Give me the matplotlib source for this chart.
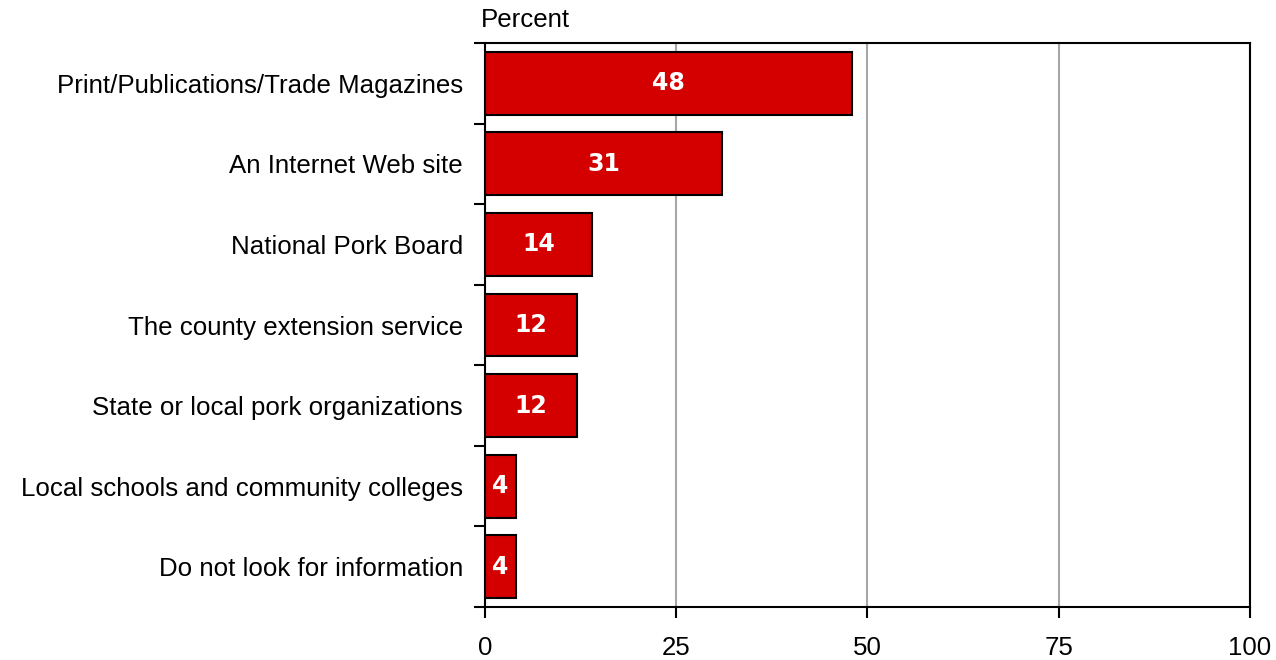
import numpy as np
import matplotlib.pyplot as plt

plt.rcParams['font.family'] = ['Liberation Sans', 'DejaVu Sans']

sources = ['Print/Publications/Trade Magazines', 'An Internet Web site',
           'National Pork Board', 'The county extension service',
           'State or local pork organizations',
           'Local schools and community colleges',
           'Do not look for information']
percent = [48, 31, 14, 12, 12, 4, 4]

fig = plt.figure(figsize=(12.76, 6.60), dpi=100)
ax = fig.add_axes([0.3801, 0.0803, 0.5995, 0.8545])

y = np.arange(len(sources))
bars = ax.barh(y, percent, height=0.78, color='#d40000',
               edgecolor='black', linewidth=1.5, zorder=3)

for b, v in zip(bars, percent):
    ax.text(b.get_x() + b.get_width() / 2, b.get_y() + b.get_height() / 2,
            str(v), ha='center', va='center', color='white',
            fontsize=17, fontweight='bold', family='DejaVu Sans', zorder=4)

ax.set_xlim(0, 100)
ax.set_ylim(len(sources) - 0.5, -0.5)
ax.set_xticks([0, 25, 50, 75, 100])
ax.tick_params(axis='x', labelsize=18.6, length=8, width=1.5, pad=13)

# category names sit between boundary ticks
ax.set_yticks(y)
ax.set_yticklabels(sources, fontsize=18.6)
ax.tick_params(axis='y', length=0, pad=16)
ax.set_yticks(np.arange(len(sources) + 1) - 0.5, minor=True)
ax.tick_params(axis='y', which='minor', length=8, width=1.5)

ax.grid(axis='x', color='#a6a6a6', linewidth=1.5, zorder=0)
for s in ax.spines.values():
    s.set_linewidth(1.5)

ax.text(-0.005, 1.02, 'Percent', transform=ax.transAxes, fontsize=18.6,
        ha='left', va='bottom')

plt.savefig('out.png', dpi=100)
